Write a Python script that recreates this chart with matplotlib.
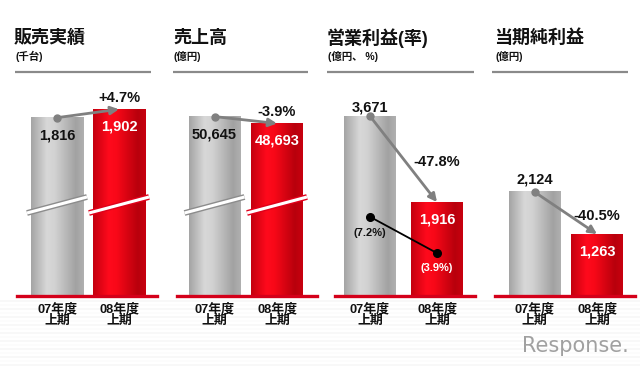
import numpy as np
import matplotlib
matplotlib.use("Agg")
import matplotlib.pyplot as plt
from matplotlib.colors import LinearSegmentedColormap
import matplotlib.transforms as mtransforms

plt.rcParams['font.family'] = ['Liberation Sans', 'Noto Sans CJK JP', 'DejaVu Sans']

# ---------------- data ----------------
titles = ["販売実績", "売上高", "営業利益(率)", "当期純利益"]
units = ["(千台)", "(億円)", "(億円、 %)", "(億円)"]
categories = ["07年度\n上期", "08年度\n上期"]
sales = [1816, 1902]
revenue = [50645, 48693]
op_profit = [3671, 1916]
net_profit = [2124, 1263]
op_margin = [7.2, 3.9]
changes = ["+4.7%", "-3.9%", "-47.8%", "-40.5%"]
value_labels = [["1,816", "1,902"], ["50,645", "48,693"],
                ["3,671", "1,916"], ["2,124", "1,263"]]
margin_labels = ["(7.2%)", "(3.9%)"]

W, H = 640, 367
fig = plt.figure(figsize=(W / 100, H / 100), dpi=100)

# background / decoration axes in pixel coordinates
bg = fig.add_axes([0, 0, 1, 1], zorder=0)
bg.set_xlim(0, W)
bg.set_ylim(H, 0)
bg.axis("off")
for i, y in enumerate(range(300, H, 4)):
    shade = 0.972 + 0.015 * ((i % 2))
    bg.axhspan(y, y + 2, color=(shade, shade, shade), lw=0)

# panel geometry (pixels)
title_x = [14, 173, 327, 494]
rule_span = [(15, 151), (173, 308), (327, 474), (492, 628)]
base_span = [(17, 157), (177, 317), (335, 475), (495, 635)]
centers = [(57, 119), (214.5, 277), (370, 437), (534.5, 597)]
bar_px = 52
px_per_unit = [0.0982, 0.003543, 0.0490, 0.0490]
base_y = 296
ax_h = 190

for i in range(4):
    bg.text(title_x[i], 38, titles[i], fontsize=13, fontweight="bold",
            va="center", ha="left", color="#111111")
    bg.text(title_x[i] + 1, 56, units[i], fontsize=7.5, fontweight="bold",
            va="center", ha="left", color="#111111")
    bg.plot(rule_span[i], [72, 72], color="#8a8a8a", lw=1.6,
            solid_capstyle="butt")

bg.text(629, 346, "Response.", fontsize=15, color="#a0a0a0",
        ha="right", va="center", family="DejaVu Sans")

gray_cmap = LinearSegmentedColormap.from_list(
    "g", [(0, "#a4a4a4"), (0.3, "#d8d8d8"), (0.45, "#d2d2d2"),
          (0.85, "#a2a2a2"), (1.0, "#b0b0b0")])
red_cmap = LinearSegmentedColormap.from_list(
    "r", [(0, "#c4000f"), (0.3, "#ff0a1c"), (0.45, "#f80818"),
          (0.85, "#b8000c"), (1.0, "#c8000f")])
grad = np.linspace(0, 1, 200).reshape(1, -1)

datasets = [sales, revenue, op_profit, net_profit]
for i in range(4):
    L, R = base_span[i]
    c0, c1 = centers[i]
    s = c1 - c0
    ax = fig.add_axes([L / W, (H - base_y) / H, (R - L) / W, ax_h / H],
                      zorder=2)
    ax.patch.set_alpha(0)
    ax.set_xlim((L - c0) / s, (R - c0) / s)
    ax.set_ylim(0, ax_h / px_per_unit[i])
    for sp in ax.spines.values():
        sp.set_visible(False)
    ax.set_yticks([])
    ax.set_xticks([0, 1])
    ax.set_xticklabels(categories, fontsize=9.3, fontweight="bold",
                       linespacing=0.95, color="#111111")
    ax.tick_params(axis="x", length=0, pad=5)
    ax.axhline(0, color="#d4001a", lw=2.4, clip_on=False, zorder=3)

    w = bar_px / s
    vals = datasets[i]
    for j, v in enumerate(vals):
        cmap = gray_cmap if j == 0 else red_cmap
        ax.imshow(grad, cmap=cmap, aspect="auto",
                  extent=(j - w / 2, j + w / 2, 0, v), zorder=2)

    # break marks on first two panels
    if i < 2:
        tr = mtransforms.blended_transform_factory(ax.transData, ax.transAxes)
        y0 = (base_y - 213) / ax_h
        y1 = (base_y - 197) / ax_h
        for j in range(2):
            xa, xb = j - w / 2 - 4 / s, j + w / 2 + 4 / s
            edge = "#8c8c8c" if j == 0 else "#e0001a"
            ax.plot([xa, xb], [y0, y1], transform=tr, color=edge, lw=4.2,
                    solid_capstyle="butt", zorder=4)
            ax.plot([xa, xb], [y0, y1], transform=tr, color="white", lw=2.2,
                    solid_capstyle="butt", zorder=5)

    # arrow between bar tops
    ax.annotate("", xy=(1, vals[1]), xytext=(0, vals[0]),
                arrowprops=dict(arrowstyle="-|>", color="#808080", lw=2.0,
                                mutation_scale=12, shrinkA=0, shrinkB=0),
                zorder=6)
    ax.plot([0], [vals[0]], "o", color="#808080", ms=5, zorder=7)

    # value labels
    lbl = value_labels[i]
    if i < 2:
        ax.annotate(lbl[0], (0, vals[0]), xytext=(0, -13),
                    textcoords="offset points", ha="center", va="center",
                    fontsize=10.5, fontweight="bold", color="#111111", zorder=8)
    else:
        off = 6.5 if i == 2 else 9
        ax.annotate(lbl[0], (0, vals[0]), xytext=(0, off),
                    textcoords="offset points", ha="center", va="center",
                    fontsize=10.5, fontweight="bold", color="#111111", zorder=8)
    ax.annotate(lbl[1], (1, vals[1]), xytext=(0, -12.5),
                textcoords="offset points", ha="center", va="center",
                fontsize=10.5, fontweight="bold", color="white", zorder=8)

    # change labels
    if i < 2:
        ax.annotate(changes[i], (1, vals[1]), xytext=(0, 8),
                    textcoords="offset points", ha="center", va="center",
                    fontsize=10.5, fontweight="bold", color="#111111", zorder=8)
    else:
        ax.annotate(changes[i], (1, (vals[0] + vals[1]) / 2),
                    xytext=(0, -2), textcoords="offset points",
                    ha="center", va="center",
                    fontsize=10.5, fontweight="bold", color="#111111", zorder=8)

    if i == 2:
        ax2 = ax.twinx()
        ax2.set_ylim(0, ax_h / 11.0)
        ax2.set_yticks([])
        for sp in ax2.spines.values():
            sp.set_visible(False)
        ax2.plot([0, 1], op_margin, color="black", lw=1.3, marker="o",
                 ms=5.5, zorder=9)
        ax2.annotate(margin_labels[0], (0, op_margin[0]), xytext=(0, -12),
                     textcoords="offset points", ha="center", va="center",
                     fontsize=8, fontweight="bold", color="#111111")
        ax2.annotate(margin_labels[1], (1, op_margin[1]), xytext=(0, -11),
                     textcoords="offset points", ha="center", va="center",
                     fontsize=8, fontweight="bold", color="white")

fig.savefig("out.png", dpi=100)
